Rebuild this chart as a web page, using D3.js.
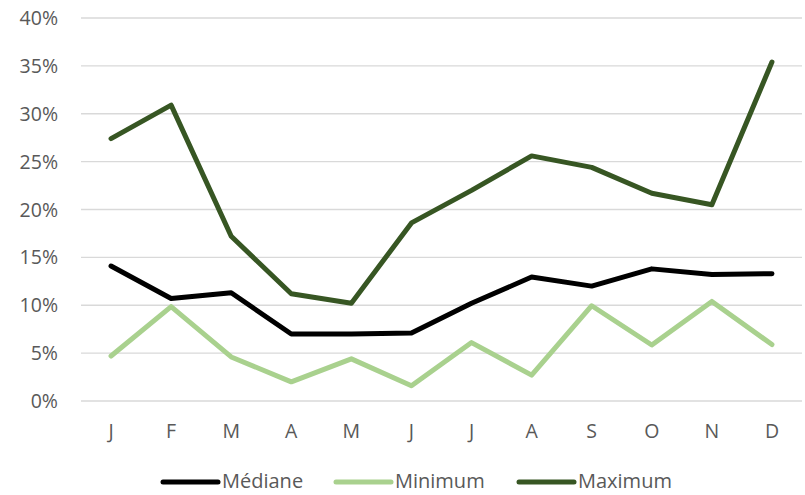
<!DOCTYPE html>
<html><head><meta charset="utf-8">
<script src="https://cdn.jsdelivr.net/npm/d3@7"></script>
<style>body{margin:0;background:#fff}svg{display:block}</style>
</head><body>
<svg id="c" width="805" height="495"></svg>
<script>
const months = ["J","F","M","A","M","J","J","A","S","O","N","D"];
const mediane = [14.1,10.7,11.3,7.0,7.0,7.1,10.2,12.95,12.0,13.8,13.2,13.3];
const minimum = [4.7,9.85,4.6,2.0,4.4,1.6,6.1,2.7,9.95,5.85,10.4,5.9];
const maximum = [27.4,30.9,17.2,11.2,10.2,18.6,22.0,25.6,24.4,21.7,20.5,35.4];
const yTicks = [0,5,10,15,20,25,30,35,40];
const seriesNames = ["Médiane","Minimum","Maximum"];
const seriesColors = ["#000000","#A9D18E","#375623"];

const svg = d3.select("#c");
const font = "'Open Sans', sans-serif";
const x = d3.scaleBand().domain(d3.range(12)).range([81,802]);
const y = d3.scaleLinear().domain([0,40]).range([401,18]);

svg.append("g").selectAll("line").data(yTicks).join("line")
  .attr("x1",81).attr("x2",802).attr("y1",d=>y(d)).attr("y2",d=>y(d))
  .attr("stroke","#d9d9d9").attr("stroke-width",1.3);

svg.append("g").selectAll("text").data(yTicks).join("text")
  .attr("x",58).attr("y",d=>y(d)).attr("dy","0.36em").attr("text-anchor","end")
  .attr("font-family",font).attr("font-size",19.5).attr("fill","#595959")
  .text(d=>d+"%");

svg.append("g").selectAll("text").data(months).join("text")
  .attr("x",(d,i)=>x(i)+x.bandwidth()/2).attr("y",431).attr("dy","0.36em")
  .attr("text-anchor","middle").attr("font-family",font).attr("font-size",19.5).attr("fill","#595959")
  .text(d=>d);

const line = d3.line().x((d,i)=>x(i)+x.bandwidth()/2).y(d=>y(d));
[mediane,minimum,maximum].forEach((s,k)=>{
  svg.append("path").datum(s).attr("d",line).attr("fill","none")
    .attr("stroke",seriesColors[k]).attr("stroke-width",5)
    .attr("stroke-linejoin","round").attr("stroke-linecap","round");
});

const legX = [163,336,519];
const lg = svg.append("g");
seriesNames.forEach((n,k)=>{
  lg.append("line").attr("x1",legX[k]).attr("x2",legX[k]+55).attr("y1",482).attr("y2",482)
    .attr("stroke",seriesColors[k]).attr("stroke-width",5).attr("stroke-linecap","round");
  lg.append("text").attr("x",legX[k]+59).attr("y",481).attr("dy","0.36em")
    .attr("font-family",font).attr("font-size",20).attr("fill","#595959").text(n);
});
</script>
</body></html>
